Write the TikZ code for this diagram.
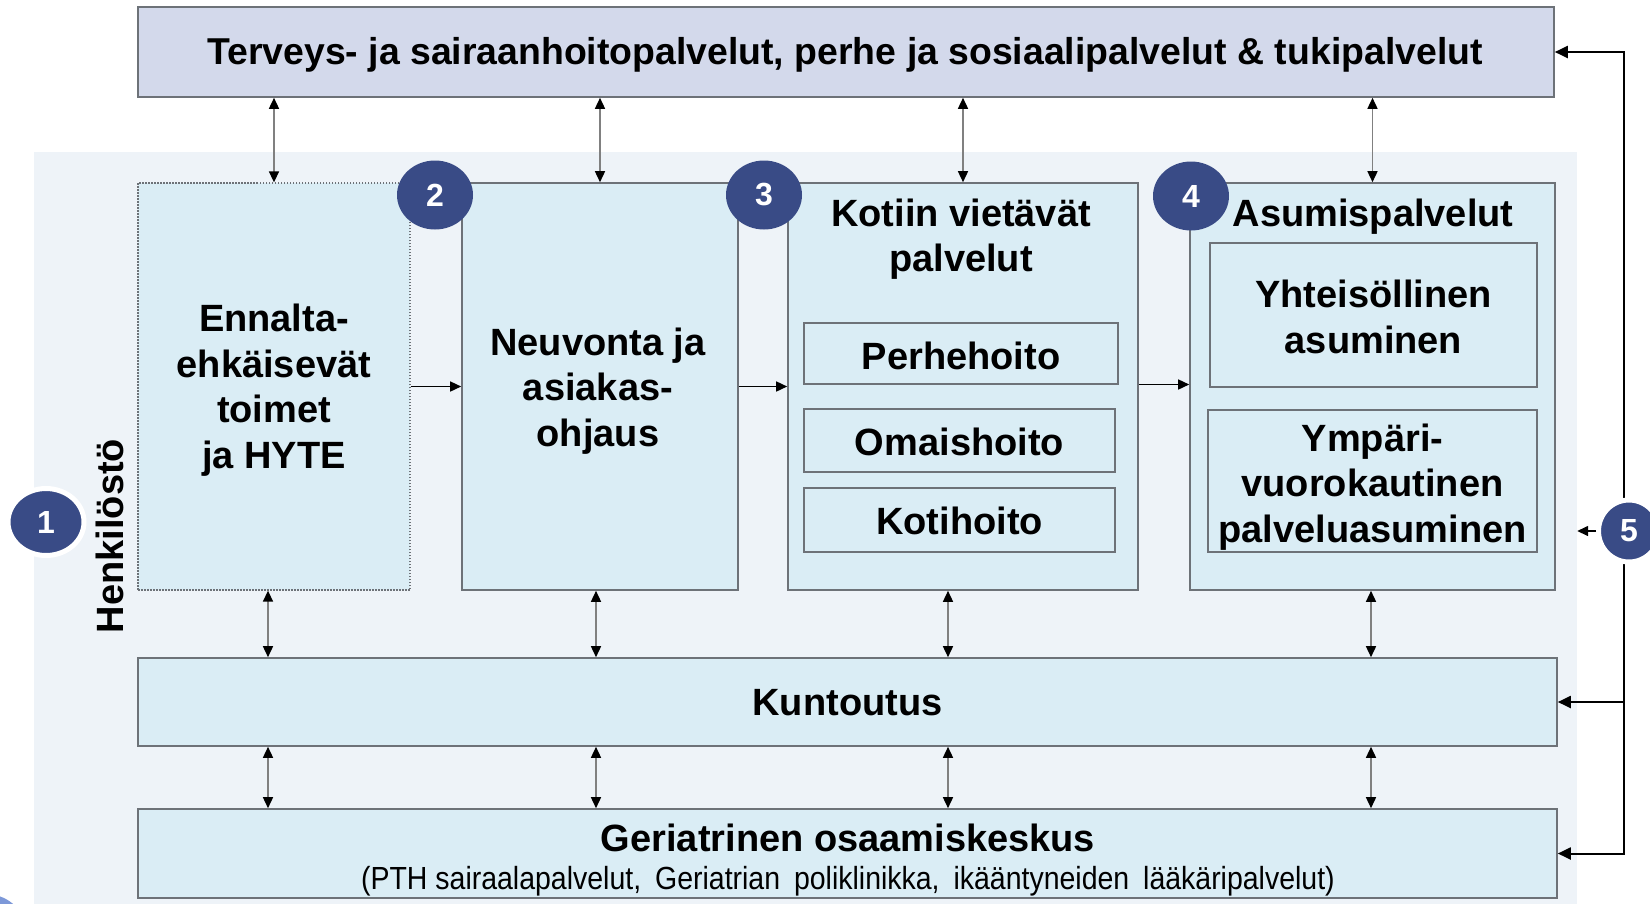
\documentclass[tikz,border=0pt]{standalone}
\usepackage{fontspec}
\setmainfont{Liberation Sans}
\newfontfamily\narrowfont[FakeStretch=0.89]{Liberation Sans}
\usetikzlibrary{arrows.meta,shapes.geometric}
\definecolor{panelbg}{HTML}{EEF3F8}
\definecolor{boxbg}{HTML}{DAEDF5}
\definecolor{topbg}{HTML}{D3D9EB}
\definecolor{navy}{HTML}{394B86}
\definecolor{bordergray}{HTML}{6D7278}
\definecolor{linegray}{HTML}{808080}
\definecolor{ghostblue}{HTML}{7D98D8}
\begin{document}
\begin{tikzpicture}[x=1pt,y=-1pt,
  box/.style={draw=bordergray, line width=1.6pt, fill=boxbg, inner sep=0pt},
  big/.style={font=\fontsize{38}{45.5}\selectfont\bfseries, align=center, inner sep=0pt},
  badge/.style={ellipse, fill=navy, inner sep=0pt, text=white, font=\fontsize{32}{32}\selectfont\bfseries},
  ringbadge/.style={badge, draw=white, line width=5pt},
  dbl/.style={{Triangle[length=11pt,width=10pt,color=black]}-{Triangle[length=11pt,width=10pt,color=black]}, draw=linegray, line width=1.5pt},
  harrow/.style={-{Triangle[length=11pt,width=10pt]}, draw=black, line width=1.5pt},
  looparrow/.style={-{Triangle[length=13pt,width=12pt]}, draw=black, line width=2pt}]
\useasboundingbox (0,0) rectangle (1650,903);
% background panel
\node[fill=panelbg, minimum width=1543pt, minimum height=770pt, inner sep=0pt] (panel) at (805.5,537) {};
\fill[ghostblue] (-14,936) circle (42pt);
% boxes
\node[box, fill=topbg, minimum width=1416pt, minimum height=90pt] (top) at (846,52) {};
\node[box, line width=1.3pt, dash pattern=on 1.5pt off 1.5pt, minimum width=272pt, minimum height=407pt] (b1) at (274,386.5) {};
\node[box, minimum width=276pt, minimum height=407pt] (b2) at (600,386.5) {};
\node[box, minimum width=350pt, minimum height=407pt] (b3) at (963,386.5) {};
\node[box, minimum width=365pt, minimum height=407pt] (b4) at (1372.5,386.5) {};
\node[box, minimum width=314pt, minimum height=61pt] (perhe) at (961,353.5) {};
\node[box, minimum width=311pt, minimum height=63pt] (omais) at (959.5,440.5) {};
\node[box, minimum width=311pt, minimum height=64pt] (koti) at (959.5,520) {};
\node[box, minimum width=327pt, minimum height=144pt] (yht) at (1373.5,315) {};
\node[box, minimum width=329pt, minimum height=142pt] (ymp) at (1372.5,481) {};
\node[box, minimum width=1419pt, minimum height=88pt] (kunt) at (847.5,702) {};
\node[box, minimum width=1419pt, minimum height=89pt] (geri) at (847.5,853.5) {};
% texts
\node[big, font=\fontsize{37.4}{45}\selectfont\bfseries] (topt) at (845,55) {Terveys- ja sairaanhoitopalvelut, perhe ja sosiaalipalvelut \& tukipalvelut};
\node[big] (b1t) at (274,390) {Ennalta-\\ehkäisevät\\toimet\\ja HYTE};
\node[big] (b2t) at (598,391) {Neuvonta ja\\asiakas-\\ohjaus};
\node[big] (b3t) at (961,239) {Kotiin vietävät\\palvelut};
\node[big] (b4t) at (1373,217) {Asumispalvelut};
\node[big] (perhet) at (961,356) {Perhehoito};
\node[big] (omaist) at (959.5,442) {Omaishoito};
\node[big] (kotit) at (959.5,521) {Kotihoito};
\node[big] (yhtt) at (1373.5,317) {Yhteisöllinen\\asuminen};
\node[big] (ympt) at (1372.5,487) {Ympäri-\\vuorokautinen\\palveluasuminen};
\node[big] (kuntt) at (847.5,703) {Kuntoutus};
\node[big] (geritxt) at (848,838) {Geriatrinen osaamiskeskus};
\node[inner sep=0pt, font=\narrowfont\fontsize{32}{32}\selectfont] (gerisub) at (848,881) {(PTH sairaalapalvelut,\hspace{6pt} Geriatrian\hspace{6pt} poliklinikka,\hspace{6pt} ikääntyneiden\hspace{6pt} lääkäripalvelut)};
\node[big, rotate=90] (henk) at (110,536) {Henkilöstö};
% vertical arrows top
\foreach \b in {b1,b2,b3,b4} {\draw[dbl] (\b.north |- top.south) -- (\b.north);}
% vertical arrows bottom
\foreach \b/\s in {b1/-6,b2/-4,b3/-15,b4/-1.5} {
  \draw[dbl] ([xshift=\s pt]\b.south) -- ([xshift=\s pt]\b.south |- kunt.north);
  \draw[dbl] ([xshift=\s pt]\b.south |- kunt.south) -- ([xshift=\s pt]\b.south |- geri.north);
}
% horizontal arrows
\draw[harrow] (b1.east) -- (b2.west);
\draw[harrow] (b2.east) -- (b3.west);
\draw[harrow] ([yshift=2pt]b3.east) -- ([yshift=2pt]b4.west);
% right feedback loop
\coordinate (rx) at (1624,531);
\draw[looparrow] (rx) |- (top.east);
\draw[looparrow] (rx) |- (geri.east);
\draw[looparrow] (rx |- kunt.east) -- (kunt.east);
% badges
\node[ringbadge, minimum width=76pt, minimum height=67pt] (c1) at (46,522) {1};
\node[badge, minimum width=76pt, minimum height=69pt] (c2) at (435,195) {2};
\node[badge, minimum width=76pt, minimum height=69pt] (c3) at (764,195) {3};
\node[badge, minimum width=76pt, minimum height=69pt] (c4) at (1191,196) {4};
\node[ringbadge, minimum width=61pt, minimum height=62pt] (c5) at (1629,531) {5};
\draw[harrow] (c5.west) -- (c5.west -| panel.east);
\end{tikzpicture}
\end{document}
